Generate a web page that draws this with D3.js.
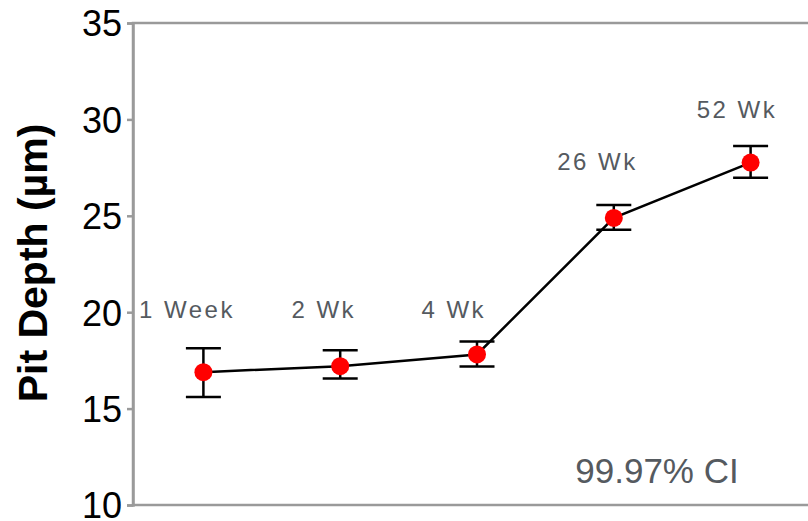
<!DOCTYPE html>
<html>
<head>
<meta charset="utf-8">
<script src="https://cdn.jsdelivr.net/npm/d3@7"></script>
<style>
  html, body { margin: 0; padding: 0; background: #fff; }
  svg { display: block; font-family: "Liberation Sans", Arial, sans-serif; }
</style>
</head>
<body>
<svg id="chart" width="808" height="521"></svg>
<script>
// Exposure periods
const weeks = ["1 Week", "2 Wk", "4 Wk", "26 Wk", "52 Wk"];
// Mean pit depth (µm)
const depth = [16.89, 17.20, 17.81, 24.89, 27.76];
// 99.97% confidence limits (µm)
const ciLow = [15.60, 16.56, 17.19, 24.27, 26.98];
const ciHigh = [18.13, 18.02, 18.48, 25.56, 28.62];
// Where each period label sits: category offset and depth (µm)
const labelIndex = [-0.12, 0.88, 1.83, 2.88, 3.90];
const labelDepth = [19.7, 19.7, 19.7, 27.4, 30.05];
// Axis ticks
const yTicks = [10, 15, 20, 25, 30, 35];

const svg = d3.select("#chart");
const plotLeft = 133, plotRight = 818, plotTop = 23, plotBottom = 505;

// Category positions (first point sits a little right of the axis)
const x = d3.scalePoint().domain(weeks).range([plotLeft + 2, plotRight + 1]).padding(0.5);
const y = d3.scaleLinear().domain([10, 35]).range([plotBottom, plotTop]);
const xi = d3.scaleLinear().domain([0, 1]).range([x(weeks[0]), x(weeks[1])]);

const axisColor = "#9a9a9a";

// Plot frame (top and bottom edges run off to the right)
svg.append("rect")
  .attr("x", plotLeft).attr("y", y(35))
  .attr("width", plotRight - plotLeft).attr("height", y(10) - y(35))
  .attr("fill", "none").attr("stroke", axisColor).attr("stroke-width", 2.5);

// Y axis
const yAxis = svg.append("g")
  .attr("transform", `translate(${plotLeft},0)`)
  .call(d3.axisLeft(y).tickValues(yTicks).tickSize(6).tickPadding(5).tickFormat(d3.format("d")));
yAxis.select(".domain").attr("stroke", axisColor).attr("stroke-width", 2.5);
yAxis.selectAll(".tick line").attr("stroke", axisColor).attr("stroke-width", 2.5);
yAxis.selectAll(".tick text")
  .attr("fill", "#000")
  .style("font-size", "36px")
  .style("font-family", "'Liberation Sans', Arial, sans-serif")
  .attr("dy", "0.36em");

// Y axis title
svg.append("text")
  .attr("transform", `translate(47,263) rotate(-90)`)
  .attr("text-anchor", "middle")
  .style("font-size", "41px")
  .style("font-weight", "bold")
  .attr("fill", "#000")
  .text("Pit Depth (µm)");

const data = weeks.map((w, i) => ({ w, v: depth[i], lo: ciLow[i], hi: ciHigh[i] }));

// Connecting line
svg.append("path")
  .datum(data)
  .attr("fill", "none")
  .attr("stroke", "#000")
  .attr("stroke-width", 2.5)
  .attr("d", d3.line().x(d => x(d.w)).y(d => y(d.v)));

// Confidence interval bars
const capHalf = 17.5;
const eb = svg.append("g").attr("stroke", "#000").attr("stroke-width", 2.5);
data.forEach(d => {
  const cx = x(d.w);
  eb.append("line").attr("x1", cx).attr("x2", cx).attr("y1", y(d.lo)).attr("y2", y(d.hi));
  eb.append("line").attr("x1", cx - capHalf).attr("x2", cx + capHalf).attr("y1", y(d.hi)).attr("y2", y(d.hi));
  eb.append("line").attr("x1", cx - capHalf).attr("x2", cx + capHalf).attr("y1", y(d.lo)).attr("y2", y(d.lo));
});

// Mean markers
svg.append("g").selectAll("circle")
  .data(data).join("circle")
  .attr("cx", d => x(d.w))
  .attr("cy", d => y(d.v))
  .attr("r", 9)
  .attr("fill", "#ff0000");

// Period labels
svg.append("g").selectAll("text")
  .data(weeks).join("text")
  .attr("x", (d, i) => xi(labelIndex[i]))
  .attr("y", (d, i) => y(labelDepth[i]))
  .attr("text-anchor", "middle")
  .style("font-size", "24px")
  .style("letter-spacing", "2.5px")
  .attr("fill", "#555a5f")
  .text(d => d);

// Confidence level note
svg.append("text")
  .attr("x", 657)
  .attr("y", 483)
  .attr("text-anchor", "middle")
  .style("font-size", "35px")
  .attr("fill", "#555a5f")
  .text("99.97% CI");
</script>
</body>
</html>
